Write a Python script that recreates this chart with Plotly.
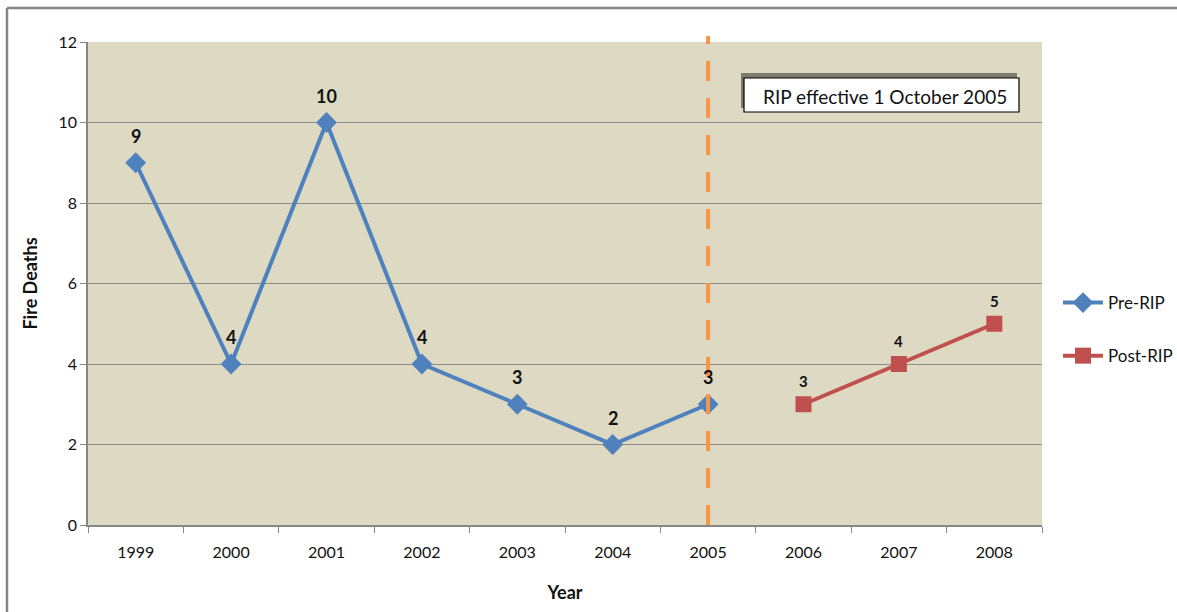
import plotly.graph_objects as go

# Fire deaths per year, before and after the RIP came into force
years = ["1999", "2000", "2001", "2002", "2003", "2004", "2005", "2006", "2007", "2008"]
pre_years = ["1999", "2000", "2001", "2002", "2003", "2004", "2005"]
pre_deaths = [9, 4, 10, 4, 3, 2, 3]
post_years = ["2006", "2007", "2008"]
post_deaths = [3, 4, 5]
y_ticks = [0, 2, 4, 6, 8, 10, 12]
rip_year = "2005"

BLUE = "#4F81BD"
RED = "#C0504D"
ORANGE = "#F79646"
FONT = "Lato, 'Open Sans', sans-serif"

W, H = 1177, 612
L, R, T, B = 88, 135, 42, 87
PW, PH = W - L - R, H - T - B


def px_x(px):
    return (px - L) / PW


def px_y(py):
    return (H - B - py) / PH


def cat_index(year):
    # numeric position of a category, so year-like strings aren't read as indices
    return years.index(year)


fig = go.Figure()
fig.add_trace(go.Scatter(
    x=pre_years, y=pre_deaths, name="Pre-RIP", mode="lines+markers",
    line=dict(color=BLUE, width=4),
    marker=dict(symbol="diamond", size=16, color=BLUE),
    legendgroup="a",
))
fig.add_trace(go.Scatter(
    x=post_years, y=post_deaths, name="Post-RIP", mode="lines+markers",
    line=dict(color=RED, width=4),
    marker=dict(symbol="square", size=16, color=RED),
    legendgroup="b",
))

annotations = []
for x, v in zip(pre_years, pre_deaths):
    annotations.append(dict(x=cat_index(x), y=v, text=f"<b>{v}</b>", showarrow=False, yshift=27,
                            font=dict(family=FONT, size=18, color="#111"),
                            xref="x", yref="y"))
for x, v in zip(post_years, post_deaths):
    annotations.append(dict(x=cat_index(x), y=v, text=f"<b>{v}</b>", showarrow=False, yshift=23,
                            font=dict(family=FONT, size=15, color="#111"),
                            xref="x", yref="y"))

# note box text
annotations.append(dict(
    x=px_x(761), y=px_y(96), xref="paper", yref="paper", xanchor="left", yanchor="middle",
    text="RIP effective 1 October 2005", showarrow=False,
    font=dict(family=FONT, size=19, color="#111"),
))

frame = dict(color="#858585", width=2.5)
shapes = [
    # outer frame (left and top edges fall inside the page)
    dict(type="line", xref="paper", yref="paper", x0=px_x(7), x1=px_x(7),
         y0=px_y(640), y1=px_y(8), line=frame, layer="below"),
    dict(type="line", xref="paper", yref="paper", x0=px_x(7), x1=px_x(1200),
         y0=px_y(8), y1=px_y(8), line=frame, layer="below"),
    # RIP cut-off
    dict(type="line", xref="x", yref="paper", x0=cat_index(rip_year), x1=cat_index(rip_year),
         y0=0, y1=px_y(36), line=dict(color=ORANGE, width=4, dash="20px,17px")),
    # note box shadow and box
    dict(type="rect", xref="paper", yref="paper", x0=px_x(741), x1=px_x(1017),
         y0=px_y(108), y1=px_y(73), line=dict(width=0), fillcolor="rgba(100,100,90,0.8)"),
    dict(type="rect", xref="paper", yref="paper", x0=px_x(744), x1=px_x(1019),
         y0=px_y(112), y1=px_y(78), line=dict(color="black", width=1.2), fillcolor="white"),
]

fig.update_layout(
    width=W, height=H,
    margin=dict(l=L, r=R, t=T, b=B, autoexpand=False),
    paper_bgcolor="white",
    plot_bgcolor="#DDD9C3",
    font=dict(family=FONT, size=15, color="#111"),
    showlegend=True,
    legend=dict(
        x=px_x(1058), y=px_y(285), xanchor="left", yanchor="top",
        font=dict(family=FONT, size=17, color="#111"),
        tracegroupgap=28, traceorder="grouped", itemwidth=40,
        bgcolor="rgba(0,0,0,0)",
    ),
    annotations=annotations,
    shapes=shapes,
    xaxis=dict(
        type="category", categoryorder="array", categoryarray=years,
        range=[-0.5, len(years) - 0.5],
        tickson="boundaries", ticks="outside", ticklen=6, tickcolor="#868686",
        ticklabelstandoff=12,
        showline=True, linecolor="#868686", linewidth=1.5,
        showgrid=False, zeroline=False,
        tickfont=dict(family=FONT, size=16, color="#111"),
        title=dict(text="<b>Year</b>", font=dict(family=FONT, size=18, color="#111"), standoff=26),
    ),
    yaxis=dict(
        range=[0, 12], tickvals=y_ticks,
        ticks="outside", ticklen=6, tickcolor="#868686",
        showline=True, linecolor="#868686", linewidth=1.5,
        showgrid=True, gridcolor="#8C8C8C", gridwidth=1.2, zeroline=False,
        tickfont=dict(family=FONT, size=16, color="#111"),
        title=dict(text="<b>Fire Deaths</b>", font=dict(family=FONT, size=18, color="#111"), standoff=16),
    ),
)

fig.write_html("out.html")
